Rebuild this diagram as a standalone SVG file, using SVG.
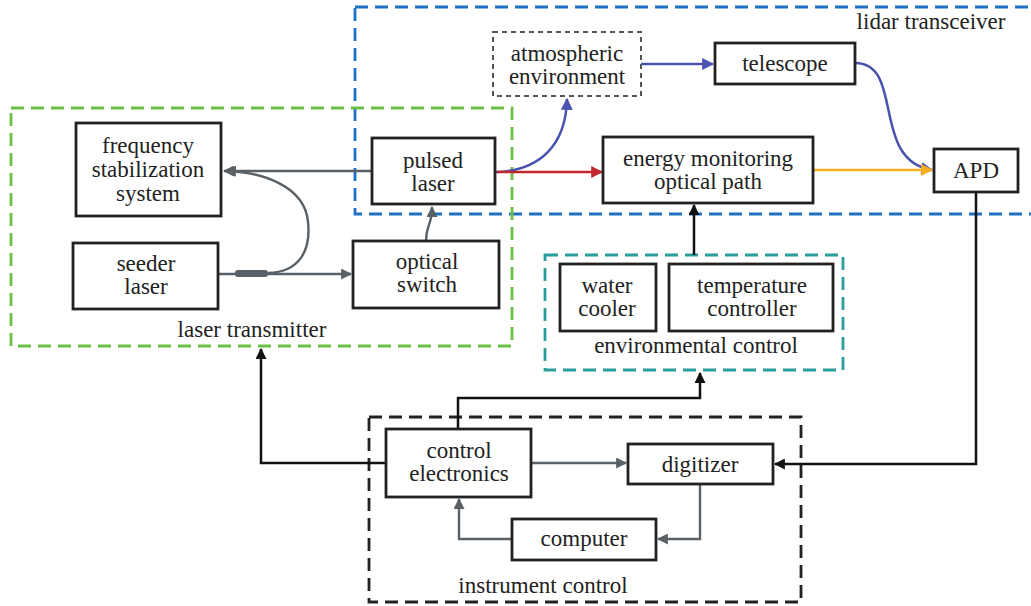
<svg xmlns="http://www.w3.org/2000/svg" width="1031" height="606" viewBox="0 0 1031 606">
<style>
.t text{font-size:23px;fill:#222;text-anchor:middle}
.box{fill:#fff;stroke:#222;stroke-width:2.8}
.grp{fill:none;stroke-width:2.8;stroke-dasharray:13 7}
.gray{fill:none;stroke:#596066;stroke-width:2.4}
.blk{fill:none;stroke:#111;stroke-width:2.5}
.blu{fill:none;stroke:#4a52b0;stroke-width:2.5}
</style>
<defs>
<marker id="aGray" viewBox="0 0 10 10" refX="9" refY="5" markerWidth="11" markerHeight="11" markerUnits="userSpaceOnUse" orient="auto"><path d="M0,0 L10,5 L0,10 z" fill="#596066"/></marker>
<marker id="aBlk" viewBox="0 0 10 10" refX="9" refY="5" markerWidth="11" markerHeight="11" markerUnits="userSpaceOnUse" orient="auto"><path d="M0,0 L10,5 L0,10 z" fill="#111"/></marker>
<marker id="aBlu" viewBox="0 0 10 10" refX="9" refY="5" markerWidth="12" markerHeight="12" markerUnits="userSpaceOnUse" orient="auto"><path d="M0,0 L10,5 L0,10 z" fill="#4a52b0"/></marker>
<marker id="aRed" viewBox="0 0 10 10" refX="9" refY="5" markerWidth="12" markerHeight="12" markerUnits="userSpaceOnUse" orient="auto"><path d="M0,0 L10,5 L0,10 z" fill="#c0282d"/></marker>
<marker id="aOr" viewBox="0 0 10 10" refX="9" refY="5" markerWidth="12" markerHeight="12" markerUnits="userSpaceOnUse" orient="auto"><path d="M0,0 L10,5 L0,10 z" fill="#f5b021"/></marker>
</defs>
<rect width="1031" height="606" fill="#fff"/>
<g class="t" font-family="Liberation Serif, DejaVu Serif, serif">

<g id="lidar-transceiver">
<rect class="grp" x="355" y="7" width="690" height="207" stroke="#1f6fc5"/>
<text x="931" y="29">lidar transceiver</text>
</g>
<g id="laser-transmitter">
<rect class="grp" x="11" y="108" width="501" height="238" stroke="#6abf45"/>
<text x="252" y="337">laser transmitter</text>
</g>
<g id="environmental-control">
<rect class="grp" x="545" y="255" width="298" height="115" stroke="#2a9d9d"/>
<text x="696" y="353">environmental control</text>
</g>
<g id="instrument-control">
<rect class="grp" x="369" y="417" width="432" height="185" stroke="#222"/>
<text x="543" y="593">instrument control</text>
</g>

<g id="connectors">
<path class="gray" d="M372 171 H224" marker-end="url(#aGray)"/>
<path class="gray" d="M268 273 C300 272 311 250 308 222 C305 186 262 172 226 171" marker-end="url(#aGray)"/>
<path class="gray" d="M218 274 H351" marker-end="url(#aGray)"/>
<rect x="235" y="270" width="33" height="7" rx="3" fill="#596066"/>
<path class="gray" d="M426 241 C426 224 432 226 432 207" marker-end="url(#aGray)"/>
<path class="blu" d="M495 172 C540 171 566 145 567 99" marker-end="url(#aBlu)"/>
<path fill="none" stroke="#c0282d" stroke-width="2.6" d="M497 172 H602" marker-end="url(#aRed)"/>
<path class="blu" d="M641 64 H713" marker-end="url(#aBlu)"/>
<path class="blu" d="M855 63 C905 63 870 160 932 170" marker-end="url(#aBlu)"/>
<path fill="none" stroke="#f5b021" stroke-width="2.6" d="M813 170 H932" marker-end="url(#aOr)"/>
<path class="blk" d="M694 255 V205" marker-end="url(#aBlk)"/>
<path class="blk" d="M976 192 V464 H775" marker-end="url(#aBlk)"/>
<path class="blk" d="M458 429 V398 H700 V373" marker-end="url(#aBlk)"/>
<path class="blk" d="M386 463 H261 V349" marker-end="url(#aBlk)"/>
<path class="gray" d="M531 463 H626" marker-end="url(#aGray)"/>
<path class="gray" d="M700 484 V539 H658" marker-end="url(#aGray)"/>
<path class="gray" d="M512 539 H459 V499" marker-end="url(#aGray)"/>
</g>

<g id="frequency-stabilization-system">
<rect class="box" x="76" y="123" width="145" height="93"/>
<text x="148" y="153">frequency</text>
<text x="148" y="177">stabilization</text>
<text x="148" y="201">system</text>
</g>
<g id="seeder-laser">
<rect class="box" x="73" y="243" width="145" height="66"/>
<text x="146" y="271">seeder</text>
<text x="146" y="294">laser</text>
</g>
<g id="pulsed-laser">
<rect class="box" x="372" y="138" width="123" height="66"/>
<text x="433" y="168">pulsed</text>
<text x="433" y="191">laser</text>
</g>
<g id="optical-switch">
<rect class="box" x="353" y="241" width="146" height="67"/>
<text x="427" y="269">optical</text>
<text x="427" y="292">switch</text>
</g>
<g id="atmospheric-environment">
<rect x="493" y="32" width="148" height="64" fill="#fff" stroke="#555" stroke-width="2" stroke-dasharray="5 4"/>
<text x="567" y="61">atmospheric</text>
<text x="567" y="84">environment</text>
</g>
<g id="telescope">
<rect class="box" x="715" y="43" width="140" height="41"/>
<text x="785" y="71">telescope</text>
</g>
<g id="energy-monitoring-optical-path">
<rect class="box" x="603" y="137" width="210" height="66"/>
<text x="708" y="166">energy monitoring</text>
<text x="708" y="189">optical path</text>
</g>
<g id="apd">
<rect class="box" x="934" y="149" width="84" height="43"/>
<text x="976" y="178">APD</text>
</g>
<g id="water-cooler">
<rect class="box" x="560" y="264" width="96" height="67"/>
<text x="607" y="293">water</text>
<text x="607" y="316">cooler</text>
</g>
<g id="temperature-controller">
<rect class="box" x="669" y="264" width="164" height="67"/>
<text x="752" y="293">temperature</text>
<text x="752" y="316">controller</text>
</g>
<g id="control-electronics">
<rect class="box" x="386" y="429" width="145" height="68"/>
<text x="459" y="458">control</text>
<text x="459" y="481">electronics</text>
</g>
<g id="digitizer">
<rect class="box" x="628" y="444" width="145" height="40"/>
<text x="700" y="472">digitizer</text>
</g>
<g id="computer">
<rect class="box" x="512" y="519" width="144" height="41"/>
<text x="584" y="546">computer</text>
</g>
</g>
</svg>
